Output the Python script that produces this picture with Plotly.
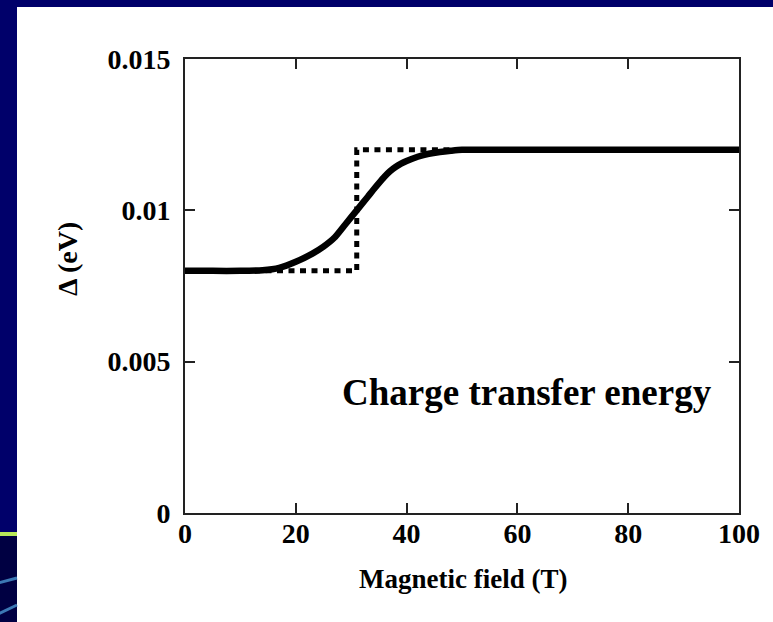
import plotly.graph_objects as go

# Magnetic field (T) and the smooth charge-transfer energy curve Δ (eV)
field = [0, 5, 10, 14, 17, 20, 23, 25, 27, 29, 31, 33, 34, 35, 36, 37, 38, 39, 40,
         42, 44, 46, 48, 50, 60, 80, 100]
delta = [0.0080, 0.0080, 0.0080, 0.00802, 0.0081, 0.0083, 0.00857, 0.0088, 0.0091,
         0.00955, 0.0100, 0.01045, 0.01068, 0.0109, 0.01111, 0.01129, 0.01143,
         0.01154, 0.01163, 0.01177, 0.01187, 0.01193, 0.01197, 0.0120, 0.0120,
         0.0120, 0.0120]

# Abrupt (step) transition drawn dotted
step_field = [0, 31, 31, 100]
step_delta = [0.008, 0.008, 0.012, 0.012]

x_ticks = [0, 20, 40, 60, 80, 100]
x_labels = ["0", "20", "40", "60", "80", "100"]
y_ticks = [0, 0.005, 0.01, 0.015]
y_labels = ["0", "0.005", "0.01", "0.015"]

W, H = 773, 622
L, R, T, B = 185, 739, 59, 513
PW, PH = R - L, B - T


def px(xpix):
    return (xpix - L) / PW


def py(ypix):
    return (B - ypix) / PH


FONT = "Liberation Serif"
NAVY = "#00006A"

fig = go.Figure()
fig.add_trace(go.Scatter(
    x=step_field, y=step_delta, mode="lines",
    line=dict(color="black", width=5, dash="6px,5.5px"),
    hoverinfo="skip", showlegend=False,
))
fig.add_trace(go.Scatter(
    x=field, y=delta, mode="lines",
    line=dict(color="black", width=6.5, shape="spline", smoothing=0.6),
    showlegend=False,
))

axis_common = dict(
    showline=True, linecolor="#222222", linewidth=2, mirror="ticks",
    ticks="inside", ticklen=10, tickwidth=1.5, tickcolor="#222222",
    showgrid=False, zeroline=False,
    tickfont=dict(family=FONT, size=28, color="black", weight="bold"),
)

fig.update_xaxes(range=[0, 100], tickvals=x_ticks, ticktext=x_labels,
                 ticklabelstandoff=-6, **axis_common)
fig.update_yaxes(range=[0, 0.015], tickvals=y_ticks, ticktext=y_labels,
                 ticklabelstandoff=7, **axis_common)

shapes = [
    # white slide panel
    dict(type="rect", xref="paper", yref="paper", layer="below",
         x0=px(17), x1=px(W + 5), y0=py(H + 5), y1=py(7),
         fillcolor="white", line=dict(width=0)),
    # darker lower-left strip
    dict(type="rect", xref="paper", yref="paper", layer="below",
         x0=px(-2), x1=px(17), y0=py(H + 5), y1=py(532),
         fillcolor="#000042", line=dict(width=0)),
    # lime accent line
    dict(type="line", xref="paper", yref="paper", layer="below",
         x0=px(-2), x1=px(17), y0=py(534), y1=py(534),
         line=dict(color="#B8E85A", width=4)),
    # blue swoosh lines
    dict(type="line", xref="paper", yref="paper", layer="below",
         x0=px(-2), x1=px(17), y0=py(583), y1=py(578),
         line=dict(color="#3C78B4", width=3)),
    dict(type="line", xref="paper", yref="paper", layer="below",
         x0=px(-2), x1=px(17), y0=py(614), y1=py(605),
         line=dict(color="#3C78B4", width=3)),
]

annotations = [
    dict(text="Charge transfer energy", xref="paper", yref="paper",
         x=px(527), y=py(392), xanchor="center", yanchor="middle",
         showarrow=False, font=dict(family=FONT, size=37, color="black", weight="bold")),
    dict(text="Magnetic field (T)", xref="paper", yref="paper",
         x=px(463), y=py(579), xanchor="center", yanchor="middle",
         showarrow=False, font=dict(family=FONT, size=27, color="black", weight="bold")),
    dict(text="Δ (eV)", xref="paper", yref="paper",
         x=px(67), y=py(259), xanchor="center", yanchor="middle", textangle=-90,
         showarrow=False, font=dict(family=FONT, size=28, color="black", weight="bold")),
]

fig.update_layout(
    width=W, height=H,
    margin=dict(l=L, r=W - R, t=T, b=H - B, pad=0),
    paper_bgcolor=NAVY, plot_bgcolor="white",
    shapes=shapes, annotations=annotations,
    showlegend=False,
)

fig.write_html("out.html")
